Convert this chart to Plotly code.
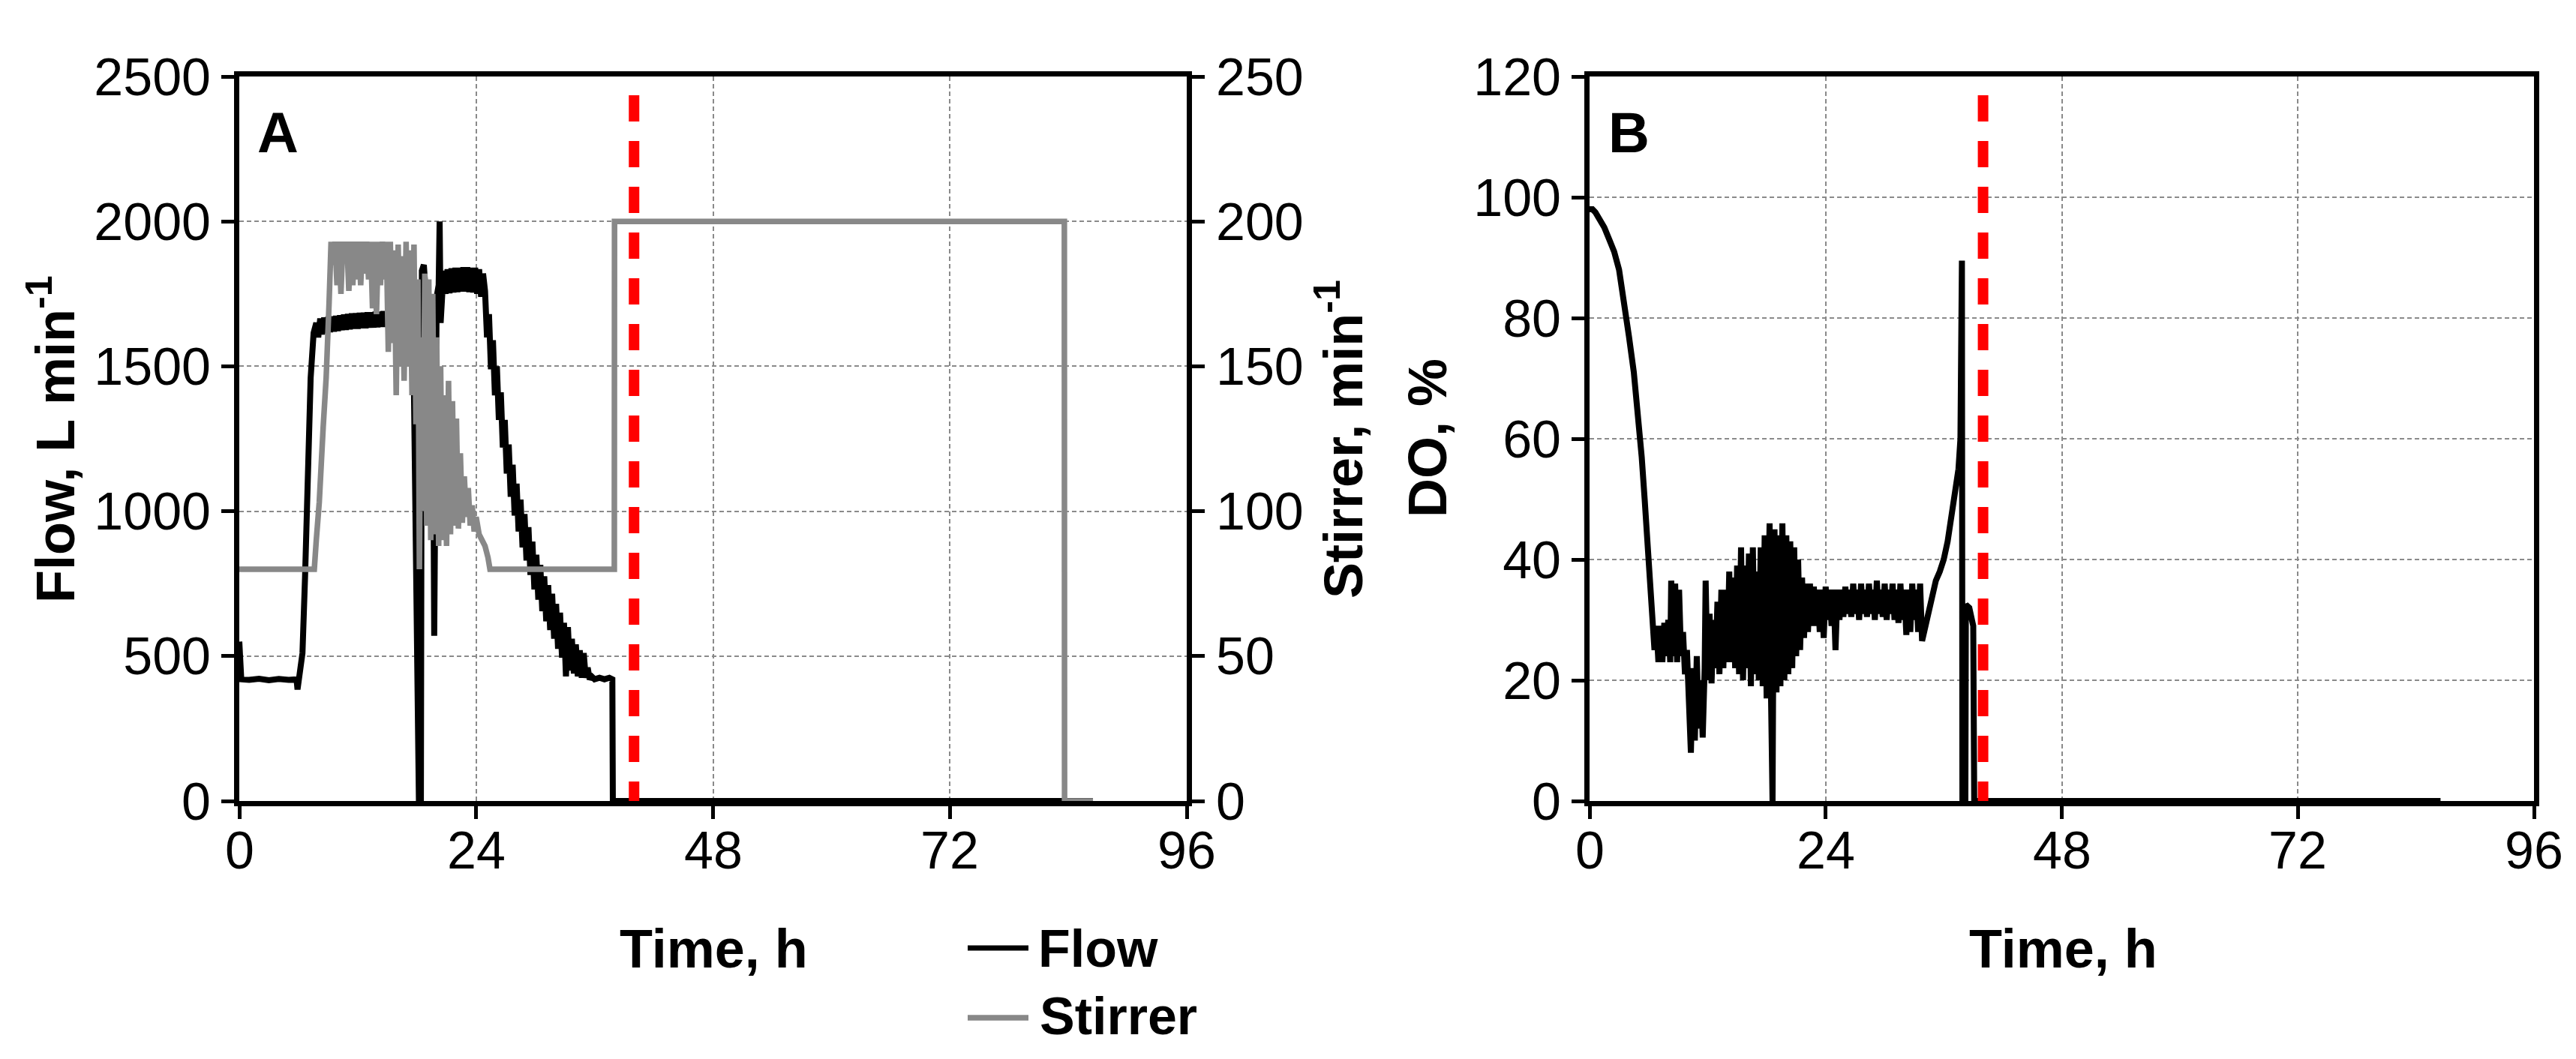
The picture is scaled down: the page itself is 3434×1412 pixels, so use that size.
import plotly.graph_objects as go

# ---------------- data ----------------
flow_time = [0, 0.05, 0.2, 1, 2, 3, 4, 5, 5.8, 5.9, 6.0, 6.15, 6.4, 6.66, 6.94, 7.23, 7.53, 7.8,
             8.0, 8.2, 8.4, 8.6, 8.8, 9.0, 9.2, 9.4, 9.6, 9.8, 10.0, 10.2, 10.4, 10.6, 10.8, 11.0,
             11.2, 11.4, 11.6, 11.8, 12.0, 12.2, 12.4, 12.6, 12.8, 13.0, 13.2, 13.4, 13.6, 13.8,
             14.0, 14.2, 14.4, 14.6, 14.8, 15.0, 15.2, 15.4, 15.6, 15.8, 16.0, 16.2, 16.4, 16.6,
             16.8, 17.0, 17.2, 17.4, 17.6,
             17.7, 17.8, 17.95, 18.1, 18.2, 18.4, 18.5, 18.7, 18.9, 19.2, 19.5, 19.65, 19.75, 19.85,
             20.0, 20.2, 20.3, 20.4,
             20.5, 20.7, 20.9, 21.1, 21.3, 21.5, 21.7, 21.9, 22.1, 22.3, 22.5, 22.7, 22.9, 23.1,
             23.3, 23.5, 23.7, 23.9, 24.1, 24.3, 24.5, 24.7,
             24.9, 25.1, 25.3, 25.5, 25.7, 25.9, 26.1, 26.3, 26.5, 26.7, 26.9, 27.1, 27.3, 27.5,
             27.7, 27.9, 28.1, 28.3, 28.5, 28.7, 28.9, 29.1, 29.3, 29.5, 29.7, 29.9, 30.1, 30.3,
             30.5, 30.7, 30.9, 31.1, 31.3, 31.5, 31.7, 31.9, 32.1, 32.3, 32.5, 32.7, 32.9, 33.1,
             33.3, 33.5, 33.7, 33.9, 34.1, 34.3, 34.5, 34.7, 34.9, 35.1, 35.3, 35.5,
             35.7, 36.0, 36.5, 37.0, 37.5, 37.8, 37.85, 86.5]
flow_rate = [550, 430, 420, 418, 422, 417, 421, 418, 420, 385, 415, 470, 510, 770, 1200, 1460, 1615, 1650,
             1600, 1665, 1610, 1668, 1615, 1670, 1618, 1672, 1620, 1674, 1622, 1676, 1625, 1678, 1626, 1680,
             1628, 1682, 1630, 1683, 1630, 1684, 1632, 1685, 1632, 1686, 1634, 1686, 1634, 1688,
             1635, 1688, 1636, 1690, 1636, 1690, 1638, 1690, 1640, 1692, 1640, 1692, 1642, 1694,
             1642, 1695, 1640, 1700, 1690,
             1400, 1000, 770, 380, 0, 0, 1830, 1850, 1760, 1600, 1300, 1260, 570, 1250,
             1740, 1780, 2000, 1650,
             1760, 1830, 1750, 1835, 1752, 1838, 1755, 1840, 1756, 1840, 1758, 1842, 1758, 1842,
             1756, 1840, 1755, 1840, 1750, 1835, 1740, 1820,
             1760, 1600, 1680, 1490, 1590, 1400, 1500, 1315, 1410, 1220, 1315, 1130, 1230, 1050,
             1160, 985, 1095, 930, 1040, 875, 990, 830, 945, 780, 895, 730, 850, 695,
             815, 655, 775, 620, 745, 590, 715, 560, 680, 525, 650, 495, 615, 430,
             600, 450, 560, 440, 540, 430, 520, 425, 510, 425, 460, 420,
             430, 420, 425, 420, 425, 420, 0, 0]

stirrer_time = [0, 7.6, 7.8, 8.1, 8.5, 8.8, 9.1, 9.3,
                9.5, 9.7, 9.9, 10.1, 10.3, 10.5, 10.7, 10.9, 11.1, 11.3, 11.5, 11.7, 11.9, 12.1,
                12.3, 12.5, 12.7, 12.9, 13.1, 13.3, 13.5, 13.7, 13.9, 14.1, 14.3, 14.5, 14.7, 14.9,
                15.1, 15.3, 15.5, 15.7, 15.9, 16.1, 16.3, 16.5, 16.7, 16.9, 17.1, 17.3, 17.5, 17.7,
                17.9, 18.1, 18.25, 18.4,
                18.6, 18.8, 19.0, 19.2, 19.4, 19.6, 19.8, 20.0, 20.2, 20.4, 20.6, 20.8, 21.0, 21.2,
                21.4, 21.6, 21.8, 22.0, 22.2, 22.4, 22.6, 22.8, 23.0, 23.2, 23.4, 23.6, 23.8, 24.0,
                24.3, 24.6, 24.9, 25.2, 25.4, 38.0, 38.02, 83.6, 83.62, 86.5]
stirrer_speed = [80, 80, 90, 103, 129, 146, 172, 193,
                 185, 193, 178, 193, 175, 193, 186, 193, 176, 193, 178, 193, 180, 193,
                 178, 193, 182, 193, 180, 193, 170, 193, 168, 193, 178, 193, 180, 193,
                 155, 193, 158, 190, 140, 192, 150, 188, 145, 193, 150, 190, 140, 192,
                 130, 180, 80, 160,
                 100, 182, 95, 180, 90, 175, 92, 160, 88, 150, 90, 140, 88, 145,
                 92, 138, 95, 132, 94, 120, 96, 112, 98, 108, 95, 102, 93, 98,
                 92, 90, 88, 84, 80, 80, 200, 200, 0, 0]

do_time = [0, 0.3, 0.6, 1, 1.5, 2, 2.5, 3, 3.5, 4, 4.5, 5, 5.3, 5.6, 5.9, 6.2, 6.4, 6.6,
           6.8, 7.0, 7.2, 7.4, 7.6, 7.8, 8.0, 8.2, 8.3, 8.5, 8.7, 8.9, 9.1, 9.3, 9.5, 9.7, 9.9,
           10.1, 10.3, 10.5, 10.7, 10.9, 11.1, 11.3, 11.5, 11.7, 11.8, 12.0, 12.2, 12.4, 12.6,
           12.8, 13.0, 13.2, 13.4, 13.6, 13.8, 14.0, 14.2, 14.4, 14.6, 14.8, 15.0, 15.2, 15.4,
           15.6, 15.8, 16.0, 16.2, 16.4, 16.6, 16.8, 17.0, 17.2, 17.4, 17.6, 17.8, 18.0, 18.3,
           18.45, 18.5, 18.6, 18.65, 18.8, 19.0, 19.2, 19.4, 19.6, 19.8, 20.0, 20.2, 20.4, 20.6,
           20.8, 21.0, 21.2, 21.4, 21.6, 21.8, 22.0, 22.2, 22.4, 22.6, 22.8, 23.0, 23.2, 23.4,
           23.6, 23.8, 24.0, 24.2, 24.4, 24.6, 24.8, 25.0, 25.2, 25.4, 25.6, 25.8, 26.0, 26.2,
           26.4, 26.6, 26.8, 27.0, 27.2, 27.4, 27.6, 27.8, 28.0, 28.2, 28.4, 28.6, 28.8, 29.0,
           29.2, 29.4, 29.6, 29.8, 30.0, 30.2, 30.4, 30.6, 30.8, 31.0, 31.2, 31.4, 31.6, 31.8,
           32.0, 32.2, 32.4, 32.6, 32.8, 33.0, 33.2, 33.4, 33.6, 33.8, 34.0, 34.4, 34.8, 35.2,
           35.6, 36.0, 36.4, 36.8, 37.2, 37.5, 37.7, 37.85, 37.9, 38.2, 38.25, 38.6, 39.0, 39.1, 86.5]
do_percent = [98, 98, 97.5, 96.5, 95, 93, 91, 88, 83, 77, 71, 63, 57, 50, 42, 33, 27, 25,
              29, 23, 29, 23, 29.5, 24, 30, 23, 36.5, 24, 36, 23, 35, 24, 28, 21, 25,
              14, 8, 22, 10, 24, 12, 20, 10.5, 22, 36.5, 20, 31, 19.5, 30,
              22, 33, 21, 35, 22, 35, 23, 38, 23, 37, 22, 39, 21, 42,
              20, 39, 22, 41, 19, 42, 21, 38, 20, 42, 19, 44, 17, 46,
              17, 0, 0, 17, 45, 18, 44, 19, 46, 20, 44, 21, 43, 22,
              42, 24, 40, 25, 37, 27, 36, 28, 36, 29, 35.5, 29, 35, 28,
              35, 27, 35.5, 30, 35, 29, 35, 25, 35, 30, 35, 30.5, 35.5, 31,
              35, 30.5, 36, 31, 35, 30, 36, 31, 35, 30.5, 36, 31, 35, 30,
              36.5, 31, 35, 30.5, 36, 30, 35, 31, 36, 30, 35, 29.5, 36, 30,
              35, 27.5, 35, 28, 36, 30, 35, 28, 36, 26.5, 28, 31, 34, 36.5,
              38, 40, 43, 47, 51, 55, 60, 89.5, 0, 0, 32.5, 32, 29, 0, 0]

assert len(flow_time) == len(flow_rate)
assert len(stirrer_time) == len(stirrer_speed)
assert len(do_time) == len(do_percent)

cutoff_time = 40
time_ticks = [0, 24, 48, 72, 96]

# ---------------- layout helpers ----------------
W, H = 3434, 1412
def px(p):
    return p / W
def py(p):
    return 1 - p / H

FONT = "Liberation Sans, Arial, sans-serif"
TICKFONT = dict(family=FONT, size=70, color="black")
GRID = dict(showgrid=True, gridcolor="#8a8a8a", gridwidth=2, griddash="6px,4px")
AX = dict(showline=True, linewidth=7, linecolor="black", ticks="outside", ticklen=17,
          tickwidth=5, tickcolor="black", tickfont=TICKFONT, zeroline=False, automargin=False)

xA = [px(311), px(1574)]
xB = [px(2111), px(3370)]
yD = [py(1060), py(94)]

fig = go.Figure()
fig.add_trace(go.Scatter(x=flow_time, y=flow_rate, mode="lines", name="Flow",
                         line=dict(color="black", width=8), xaxis="x", yaxis="y"))
fig.add_trace(go.Scatter(x=stirrer_time, y=stirrer_speed, mode="lines", name="Stirrer",
                         line=dict(color="#888888", width=7.5), xaxis="x", yaxis="y2"))
fig.add_trace(go.Scatter(x=do_time, y=do_percent, mode="lines", name="DO",
                         line=dict(color="black", width=8), xaxis="x2", yaxis="y3"))

fig.update_layout(
    template="none",
    width=W, height=H, autosize=False, showlegend=False,
    margin=dict(l=0, r=0, t=0, b=0, pad=0),
    paper_bgcolor="white", plot_bgcolor="white",
    xaxis=dict(domain=xA, range=[0, 96], tickvals=time_ticks, anchor="y", mirror=True,
               showticklabels=False, **AX, **GRID),
    yaxis=dict(domain=yD, range=[0, 2500], dtick=500, anchor="x", ticklabelstandoff=0,
               **AX, **GRID),
    yaxis2=dict(domain=yD, range=[0, 250], dtick=50, anchor="x", overlaying="y", side="right",
                showgrid=False, ticklabelstandoff=1, **AX),
    xaxis2=dict(domain=xB, range=[0, 96], tickvals=time_ticks, anchor="y3", mirror=True,
                showticklabels=False, **AX, **GRID),
    yaxis3=dict(domain=yD, range=[0, 120], dtick=20, anchor="x2", mirror=True,
                ticklabelstandoff=0, **AX, **GRID),
)

# time tick labels, placed just under each time axis
for xr in ("x", "x2"):
    for t in time_ticks:
        fig.add_annotation(text=str(t), xref=xr, yref="paper", x=t, y=py(1126), showarrow=False,
                           xanchor="center", yanchor="middle", font=TICKFONT)

# cutoff markers
fig.add_shape(type="line", xref="x", yref="y", x0=cutoff_time, x1=cutoff_time, y0=2435, y1=0,
              line=dict(color="#ff0000", width=14, dash="35px,26px"))
fig.add_shape(type="line", xref="x2", yref="y3", x0=cutoff_time, x1=cutoff_time, y0=116.9, y1=0,
              line=dict(color="#ff0000", width=14, dash="35px,26px"))

def note(text, x, y, angle=0, anchor="center", size=72):
    fig.add_annotation(text=text, xref="paper", yref="paper", x=x, y=y, showarrow=False,
                       textangle=angle, xanchor=anchor, yanchor="middle",
                       font=dict(family=FONT, size=size, color="black"))

note("<b>Time, h</b>", px(944), py(1257))
note("<b>Time, h</b>", px(2742), py(1257))
note("<b>Flow, L min<sup>-1</sup></b>", px(61), py(578), angle=-90)
note("<b>Stirrer, min<sup>-1</sup></b>", px(1778), py(578), angle=-90)
note("<b>DO, %</b>", px(1895), py(576), angle=-90)
note("<b>A</b>", px(362), py(168), size=76)
note("<b>B</b>", px(2163), py(168), size=76)

# legend
fig.add_shape(type="line", xref="paper", yref="paper", x0=px(1282), x1=px(1363), y0=py(1256), y1=py(1256),
              line=dict(color="black", width=7))
fig.add_shape(type="line", xref="paper", yref="paper", x0=px(1282), x1=px(1363), y0=py(1349), y1=py(1349),
              line=dict(color="#888888", width=7.5))
note("<b>Flow</b>", px(1374), py(1257), anchor="left", size=70)
note("<b>Stirrer</b>", px(1376), py(1347), anchor="left", size=70)

fig.write_html("out.html")
